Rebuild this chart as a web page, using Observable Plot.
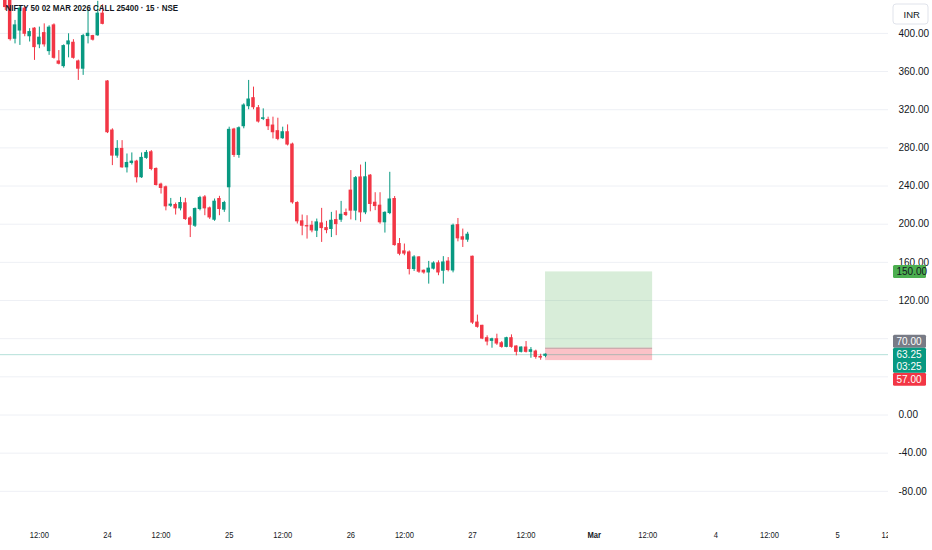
<!DOCTYPE html>
<html>
<head>
<meta charset="utf-8">
<script src="https://cdn.jsdelivr.net/npm/d3@7"></script>
<script src="https://cdn.jsdelivr.net/npm/@observablehq/plot@0.6"></script>
<style>
  html, body { margin: 0; padding: 0; background: #ffffff; }
  #chart { width: 932px; height: 550px; overflow: hidden; }
</style>
</head>
<body>
<div id="chart"></div>
<script>
// ---------- DATA ----------
const titleText = "NIFTY 50 02 MAR 2026 CALL 25400 · 15 · NSE";
// 15-minute bars, index 0 = 24 Feb 09:15 (25 bars per session)
const firstBar = -21;
const opens = [
  438, 434, 394.4, 403, 426, 397, 405, 388.5, 400.3, 381.4, 408.4, 370.6, 365.7, 388.5, 390.2, 370.6, 363, 397.2, 397.2, 398, 420.7,
  349.6, 298.2, 271.9, 278.9, 259.6, 264.2, 265.6, 249.2, 269.5, 275.4, 257.9, 241.5, 238.7, 219.4, 220.1, 216.6, 221.9, 206.1, 198.4, 215.9, 228.1, 216.6, 204.7, 226.4, 215.2,
  238.7, 299.2, 272.6, 302.7, 323.7, 332.1, 321.6, 310.4, 309.3, 303.4, 297.5, 290.1, 296.4, 283.5, 222.2, 203, 198, 198.4, 193.2, 200.8, 195.9, 195, 204.3, 204.7, 211.7,
  235.2, 214.2, 249, 212.4, 250.9, 222.5, 219.4, 202, 211.7, 226.4, 179.2, 171.5, 170.4, 153, 165.2, 151.2, 149.4, 153.4, 159, 151.2, 160.8, 151.5, 199, 186.3, 183.8,
  165.9, 96.9, 93.5, 80.5, 77.7, 79.4, 75.2, 71.4, 80.5, 71.8, 66.2, 70.7, 66.2, 66.5, 60.9, 62
];
const highs = [
  442, 436, 413.6, 428, 428, 405, 406, 406.6, 410, 408, 410, 382, 388, 399.6, 393.4, 372, 399, 425, 398, 433.6, 430,
  350.5, 300, 287.6, 287.6, 273.6, 274.7, 267, 274.7, 277.2, 277.2, 259, 243, 240, 227, 222.2, 228.1, 227.1, 208, 217, 229.2, 230, 218, 226.4, 229.2, 224,
  301.7, 300.5, 302, 326.2, 350.7, 343.7, 324.4, 320.9, 312.2, 312.2, 311.1, 301.7, 304.1, 285, 223.5, 209.6, 208.9, 203, 205.4, 216.6, 203, 212.4, 214, 223.9, 215.9,
  256.2, 250, 262, 264.9, 252, 233, 233, 213, 254.4, 229, 185, 179.2, 172, 167, 166, 152, 161, 160.6, 161.6, 166, 165, 200.1, 206, 194.9, 191.5,
  166.5, 104.7, 94, 83, 80.5, 84.7, 77, 81.5, 84, 72.5, 71.5, 77, 70.7, 68, 63.7, 64
];
const lows = [
  424, 392, 389, 387.4, 396.5, 391, 371.7, 384, 385.6, 377, 373, 367, 363.6, 374.4, 373, 350.7, 356, 389, 392, 397, 409,
  295, 261.4, 269.1, 258.6, 253.7, 262, 243.2, 248, 268, 256, 240, 231.6, 214, 217.6, 209.6, 214, 204, 186, 196.6, 214, 208.9, 205, 203, 208.9, 212.4,
  201.9, 270, 269.1, 300, 320, 320, 306, 308.6, 298.2, 289.4, 287.5, 289, 282, 221, 200.2, 187.9, 184.4, 191, 186, 180.9, 190, 186, 188, 201.9, 208,
  204.5, 203.6, 202, 210, 213, 214.2, 200, 190.7, 210, 177, 166.9, 167, 146.8, 150.5, 148.5, 147.6, 137.2, 152, 146, 137.2, 150, 149, 181.5, 175.6, 181,
  95, 91, 79, 72.5, 70, 73, 70, 70.5, 70, 62, 65, 65, 59.5, 58.5, 57.4, 60
];
const closes = [
  427.6, 394, 408.4, 426, 399.6, 401.4, 385.6, 395.5, 388.5, 406, 374.4, 368.2, 386.7, 391.6, 374.4, 363, 397.2, 399.6, 393.4, 420.7, 410,
  296.4, 271.9, 278.9, 259.6, 264.2, 265.6, 249.2, 269.5, 274.7, 257.9, 241.1, 238, 218.7, 220.5, 216.6, 222.2, 205.4, 199.4, 215.9, 227.4, 216.6, 207.1, 223.6, 215.9, 222.2,
  298.9, 272.6, 300.6, 324.4, 330.7, 322.6, 307.6, 311, 302.7, 296.4, 289.4, 296.4, 283.5, 222.9, 203, 198.4, 197.7, 193.5, 201.9, 195.9, 193.8, 203.6, 200.1, 209.9, 209.6,
  214.2, 248.3, 212.4, 249.2, 221.2, 219, 202, 211.9, 225.9, 178.1, 169, 169.2, 153, 165.2, 150.2, 149.4, 153.4, 158.8, 149.4, 159.9, 151.9, 198.4, 185.2, 183.8, 189,
  96.9, 92.4, 80.1, 77, 79.4, 74.9, 71.4, 80.5, 71.4, 66.2, 70.7, 66.2, 67.9, 60.9, 60.2, 63.25
];

// time-axis ticks (bar index) and their labels
const timeTickBars   = [-14, 0, 11, 25, 36, 50, 61, 75, 86, 100, 111, 125, 136, 150, 161];
const timeTickLabels = ["12:00", "24", "12:00", "25", "12:00", "26", "12:00", "27", "12:00", "Mar", "12:00", "4", "12:00", "5", "12:00"];
const boldTimeLabels = ["Mar"];
// price-axis ticks
const priceTicks = [-80, -40, 0, 40, 80, 120, 160, 200, 240, 280, 320, 360, 400];

// long-position tool and live price
const entryPrice = 70, targetPrice = 150, stopPrice = 57;
const positionStartBar = 90, positionEndBar = 112;
const lastPrice = 63.25;
const countdown = "03:25";
const currencyLabel = "INR";

// ---------- VIEW ----------
const W = 932, H = 550;
const paneRight = 888, paneBottom = 520;
const barSpacing = 4.867, bar0X = 107;           // visible range of the time scale
const yZeroPx = 414.5, pxPerUnit = 0.954;        // visible range of the price scale
const xDomain = [-bar0X / barSpacing, (paneRight - bar0X) / barSpacing];
const yDomain = [(yZeroPx - paneBottom) / pxPerUnit, yZeroPx / pxPerUnit];

const UP = "#089981", DOWN = "#f23645";
const FONT = "'Liberation Sans', Arial, sans-serif";
const TEXT = "#131722";

const bars = opens.map((o, k) => ({i: firstBar + k, open: o, high: highs[k], low: lows[k], close: closes[k]}));
const col = d => (d.close >= d.open ? UP : DOWN);
const timeTicks = timeTickBars.map((b, k) => ({i: b, label: timeTickLabels[k]}));

const xs = Plot.scale({x: {domain: xDomain, range: [0, paneRight]}});
const ys = Plot.scale({y: {domain: yDomain, range: [paneBottom, 0]}});
const xAt = px => xs.invert(px);
const yAt = py => ys.invert(py);

// stacked price labels on the axis (avoid overlaps, like the original)
const LH = 13;
const mainC = ys.apply(lastPrice);
const mainTop = mainC - LH / 2, mainBot = mainC + LH / 2 + 12;
const entryC = Math.min(ys.apply(entryPrice), mainTop - LH / 2);
const stopC = Math.max(ys.apply(stopPrice), mainBot + LH / 2);
const targetC = ys.apply(targetPrice);
const labelX1 = xAt(893), labelX2 = xAt(926), labelTextX = xAt(896);

const axisLabels = [
  {c: targetC, text: targetPrice.toFixed(2), fill: "#4caf50", color: TEXT},
  {c: entryC, text: entryPrice.toFixed(2), fill: "#787b86", color: "#ffffff"},
  {c: stopC, text: stopPrice.toFixed(2), fill: DOWN, color: "#ffffff"}
];
// axis tick labels hidden behind the price labels
const covered = [entryC, stopC];
const shownTicks = priceTicks.filter(t => {
  const p = ys.apply(t);
  return covered.every(c => Math.abs(p - c) > 8) && !(p > mainTop - 4 && p < mainBot + 4);
});

const chart = Plot.plot({
  width: W, height: H,
  marginLeft: 0, marginRight: W - paneRight, marginTop: 0, marginBottom: H - paneBottom,
  x: {domain: xDomain, axis: null},
  y: {domain: yDomain, axis: null},
  style: {fontFamily: FONT, background: "#ffffff", color: TEXT},
  marks: [
    // grid
    Plot.ruleY(priceTicks, {stroke: "#eef0f5", strokeWidth: 1}),
    // position tool
    Plot.rect([0], {x1: positionStartBar, x2: positionEndBar, y1: entryPrice, y2: targetPrice, fill: "#4caf50", fillOpacity: 0.22}),
    Plot.rect([0], {x1: positionStartBar, x2: positionEndBar, y1: stopPrice, y2: entryPrice, fill: DOWN, fillOpacity: 0.3}),
    Plot.ruleY([entryPrice], {x1: positionStartBar, x2: positionEndBar, stroke: "#8a8a8a", strokeOpacity: 0.55}),
    // live price line
    Plot.ruleY([lastPrice], {stroke: UP, strokeOpacity: 0.3}),
    // candles
    Plot.ruleX(bars, {x: "i", y1: "low", y2: "high", stroke: col, strokeWidth: 1}),
    Plot.rect(bars, {x1: d => d.i - 0.36, x2: d => d.i + 0.36, y1: "open", y2: "close", fill: col, insetTop: -0.5, insetBottom: -0.5}),
    // title
    Plot.text([titleText], {frameAnchor: "top-left", dx: 5, dy: 10, text: d => d, textAnchor: "start", fontSize: 9.5, fontWeight: 700, fill: TEXT}),
    // time axis
    Plot.text(timeTicks.filter(d => !boldTimeLabels.includes(d.label)), {x: "i", text: "label", frameAnchor: "bottom", dy: 17, fontSize: 9.5, fill: TEXT}),
    Plot.text(timeTicks.filter(d => boldTimeLabels.includes(d.label)), {x: "i", text: "label", frameAnchor: "bottom", dy: 17, fontSize: 9.5, fontWeight: 700, fill: TEXT}),
    // price-axis panel background (hides time labels running under it)
    Plot.rect([0], {x1: xDomain[1], x2: xAt(W + 5), y1: yAt(H + 5), y2: yAt(-5), fill: "#ffffff"}),
    // price axis
    Plot.text(shownTicks, {y: d => d, text: d => d.toFixed(2), frameAnchor: "right", dx: 10, textAnchor: "start", fontSize: 10, fill: TEXT}),
    // currency box
    Plot.rect([0], {x1: xAt(893), x2: xAt(928), y1: yAt(24), y2: yAt(4), fill: "#ffffff", stroke: "#e0e3eb", rx: 3}),
    Plot.text([currencyLabel], {x: xAt(903), y: yAt(14.5), text: d => d, textAnchor: "start", fontSize: 9.5, fill: TEXT}),
    // axis price labels
    Plot.rect(axisLabels, {x1: labelX1, x2: labelX2, y1: d => yAt(d.c - LH / 2), y2: d => yAt(d.c + LH / 2), fill: "fill", rx: 1.5}),
    Plot.text(axisLabels, {x: labelTextX, y: d => yAt(d.c), text: "text", fill: "color", textAnchor: "start", fontSize: 10}),
    Plot.rect([0], {x1: labelX1, x2: labelX2, y1: yAt(mainTop), y2: yAt(mainBot), fill: UP, rx: 1.5}),
    Plot.text([lastPrice.toFixed(2)], {x: labelTextX, y: yAt(mainC), text: d => d, fill: "#ffffff", textAnchor: "start", fontSize: 10}),
    Plot.text([countdown], {x: labelTextX, y: yAt(mainC + 12), text: d => d, fill: "#ffffff", textAnchor: "start", fontSize: 10})
  ]
});
document.getElementById("chart").appendChild(chart);

// the original uses a condensed face for the legend title and the time scale:
// squeeze each such text horizontally about its own anchor point
function condense(test, f) {
  d3.select(chart).selectAll("text").filter(function () { return test(this.textContent); }).each(function () {
    const t = this.getAttribute("transform") || "";
    const x = +this.getAttribute("x") || 0, y = +this.getAttribute("y") || 0;
    this.removeAttribute("x");
    this.removeAttribute("y");
    this.setAttribute("transform", `${t} translate(${x},${y}) scale(${f},1)`);
  });
}
condense(s => s === titleText, 0.84);
condense(s => timeTickLabels.includes(s), 0.8);
</script>
</body>
</html>
